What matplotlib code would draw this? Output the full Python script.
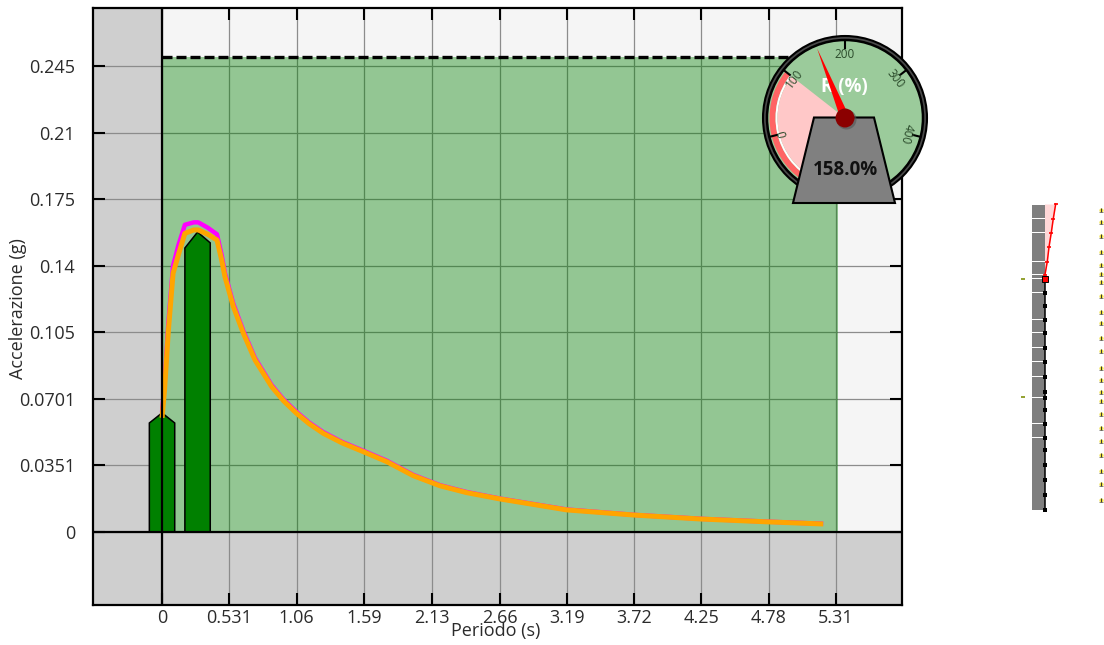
# ******************************************************************************
# * Spettro di risposta con gauge R(%) e schema della parete
# ******************************************************************************
import numpy as np
import matplotlib
matplotlib.use("Agg")
import matplotlib.pyplot as plt
from matplotlib.patches import Circle, Polygon, Rectangle, Wedge

plt.rcParams['font.family'] = ['Open Sans', 'DejaVu Sans']

# ******************************************************************************
# * Data
# ******************************************************************************
x_ticks = [0, 0.531, 1.06, 1.59, 2.13, 2.66, 3.19, 3.72, 4.25, 4.78, 5.31]
x_tick_labels = ['0', '0.531', '1.06', '1.59', '2.13', '2.66', '3.19', '3.72', '4.25', '4.78', '5.31']
y_ticks = [0, 0.0351, 0.0701, 0.105, 0.14, 0.175, 0.21, 0.245]
y_tick_labels = ['0', '0.0351', '0.0701', '0.105', '0.14', '0.175', '0.21', '0.245']

# spettro di domanda (arancio) e di capacita' (magenta)
periodo = [0, 0.02, 0.05, 0.087, 0.13, 0.18, 0.25, 0.285, 0.36, 0.433, 0.47, 0.496, 0.562, 0.641,
           0.733, 0.864, 0.96, 1.06, 1.16, 1.27, 1.42, 1.587, 1.77, 1.98, 2.19, 2.4, 2.66, 3.19,
           3.72, 4.25, 4.78, 5.21]
acc_orange = [0.060, 0.075, 0.106, 0.136, 0.146, 0.157, 0.1588, 0.1588, 0.1565, 0.1535, 0.143, 0.1342,
              0.1185, 0.1045, 0.0904, 0.0764, 0.0688, 0.0624, 0.0569, 0.0519, 0.0468, 0.0422, 0.037,
              0.0296, 0.0243, 0.0207, 0.0174, 0.0116, 0.0089, 0.0068, 0.0053, 0.0042]
acc_magenta = [0.063, 0.078, 0.110, 0.140, 0.151, 0.1615, 0.1628, 0.1628, 0.1600, 0.1565, 0.1455, 0.1360,
               0.1200, 0.1057, 0.0914, 0.0772, 0.0695, 0.0631, 0.0575, 0.0525, 0.0473, 0.0427, 0.0375,
               0.0300, 0.0246, 0.0210, 0.0176, 0.0118, 0.0090, 0.0069, 0.0054, 0.0043]

# barre dei modi
bar_center = [0.0, 0.28]
bar_width = [0.2, 0.2]
bar_shoulder_l = [0.0573, 0.1493]
bar_shoulder_r = [0.0573, 0.152]
bar_top = [0.0626, 0.1577]

limit_acc = 0.2497
limit_period = 5.33

# gauge
gauge_ticks = [0, 100, 200, 300, 400]
gauge_value = 158.0
gauge_red_limit = 100
gauge_title = 'R (%)'

# schema parete: quote dei piani e spostamenti
quote = [0, 1.5, 3.0, 4.5, 6.0, 7.25, 8.65, 10.0, 11.25, 11.8, 13.35, 14.85, 16.25, 17.75,
         19.05, 20.4, 21.75, 23.15, 23.55, 24.85, 26.3, 27.75, 29.15, 30.5]
spost_quote = [23.15, 23.55, 24.85, 26.3, 27.75, 29.15, 30.6]
spost = [0, 0.05, 0.28, 0.45, 0.68, 0.88, 1.12]
quote_ritti = [1.0, 2.6, 3.9, 5.5, 6.9, 8.2, 9.6, 10.9, 11.8, 13.0, 14.2, 15.9, 17.2, 18.7,
               19.8, 21.4, 22.8, 23.6, 24.5, 25.8, 27.4, 28.8, 30.0]
quote_marche = [23.1, 11.3]

# ******************************************************************************
# * Main chart
# ******************************************************************************
fig = plt.figure(figsize=(11.04, 6.45), dpi=100)
W, H = 1104.0, 645.0
ax = fig.add_axes([93 / W, 1 - 605 / H, (902 - 93) / W, (605 - 8) / H])
ax.set_xlim(-0.544, 5.831)
ax.set_ylim(-0.0384, 0.2755)
ax.set_facecolor('#f5f5f5')

ax.axvspan(-0.544, 0, color='#cfcfcf', lw=0, zorder=0)
ax.axhspan(-0.0384, 0, color='#cfcfcf', lw=0, zorder=0)

ax.set_xticks(x_ticks)
ax.set_xticklabels(x_tick_labels)
ax.set_yticks(y_ticks)
ax.set_yticklabels(y_tick_labels)
ax.grid(True, color='#8c8c8c', lw=0.9, zorder=1)
ax.set_axisbelow(True)
ax.tick_params(which='both', direction='in', top=True, right=True, length=8.5, width=1.5,
               labelsize=13, labelcolor='#2b2b2b')
ax.tick_params(axis='x', pad=3)
ax.tick_params(axis='y', pad=13)

ax.add_patch(Rectangle((0, 0), limit_period, limit_acc, facecolor='green', alpha=0.4,
                       lw=0, zorder=2))
ax.plot([0, limit_period], [limit_acc, limit_acc], color='black', lw=2.4,
        ls=(0, (3, 1.2)), zorder=3)

for c, w, sl, sr, t in zip(bar_center, bar_width, bar_shoulder_l, bar_shoulder_r, bar_top):
    ax.add_patch(Polygon([(c - w / 2, 0), (c - w / 2, sl), (c, t), (c + w / 2, sr), (c + w / 2, 0)],
                         closed=True, facecolor='#008000', edgecolor='black', lw=1.1, zorder=4))

ax.plot(periodo, acc_magenta, color='#ff00ff', lw=3.2, zorder=5, solid_capstyle='butt')
ax.plot(periodo, acc_orange, color='#ffa500', lw=3.6, zorder=6, solid_capstyle='butt')

ax.axhline(0, color='black', lw=1.6, zorder=7)
ax.axvline(0, color='black', lw=1.6, zorder=7)
for s in ax.spines.values():
    s.set_linewidth(1.6)
    s.set_zorder(8)

fig.text(496 / W, 1 - 631 / H, 'Periodo (s)', ha='center', va='center', fontsize=13, color='#2b2b2b')
fig.text(18 / W, 1 - 309 / H, 'Accelerazione (g)', ha='center', va='center', rotation=90,
         fontsize=13, color='#2b2b2b')

# ******************************************************************************
# * Gauge (overlay in pixel coordinates)
# ******************************************************************************
ov = fig.add_axes([0, 0, 1, 1], facecolor='none')
ov.set_xlim(0, W)
ov.set_ylim(0, H)
ov.axis('off')
cx, cy = 845.0, H - 118.0


def gauge_angle(v):
    return 90 - (v - 200) * 0.52


def polar(r, angle):
    a = np.deg2rad(angle)
    return cx + r * np.cos(a), cy + r * np.sin(a)


ov.add_patch(Circle((cx, cy), 82, facecolor='#4a4a4a', edgecolor='black', lw=1.5, zorder=10))
ov.add_patch(Circle((cx, cy), 78, facecolor='#9bcb9b', edgecolor='black', lw=1.8, zorder=11))
a_start = gauge_angle(gauge_red_limit)
ov.add_patch(Wedge((cx, cy), 75.5, a_start, a_start + 100, width=6, facecolor='#ff6464', lw=0, zorder=12))
ov.add_patch(Wedge((cx, cy), 69.5, a_start, a_start + 100, width=2, facecolor='white', lw=0, zorder=12))
ov.add_patch(Wedge((cx, cy), 67.5, a_start, a_start + 100, facecolor='#ffc8c8', lw=0, zorder=12))

for v in gauge_ticks:
    a = gauge_angle(v)
    x0, y0 = polar(77, a)
    x1, y1 = polar(70, a)
    ov.plot([x0, x1], [y0, y1], color='black', lw=1.5, zorder=13)
    tx, ty = polar(64, a)
    ov.text(tx, ty, str(v), ha='center', va='center', rotation=a - 90, rotation_mode='anchor',
            fontsize=8.5, color='#2a4a2a', zorder=13)

ov.text(cx - 1, H - 87, gauge_title, ha='center', va='center', fontsize=13.5, fontweight='bold',
        color='white', zorder=13)

# lancetta
a = gauge_angle(gauge_value)
tip = polar(75, a)
b0 = polar(4.5, a + 90)
b1 = polar(4.5, a - 90)
ov.add_patch(Polygon([tip, b0, b1], closed=True, facecolor='#ff0000', lw=0, zorder=14))

ov.add_patch(Polygon([(814, H - 117.5), (874, H - 117.5), (895, H - 203), (793, H - 203)], closed=True,
                     facecolor='#808080', edgecolor='black', lw=1.5, zorder=15))
ov.add_patch(Circle((cx + 1.5, cy - 1.5), 10, facecolor='#555555', lw=0, alpha=0.6, zorder=15))
ov.add_patch(Circle((cx, cy), 9.5, facecolor='#8b0000', lw=0, zorder=16))
ov.text(845, H - 170, '%.1f%%' % gauge_value, ha='center', va='center', fontsize=13.5, fontweight='bold',
        color='#111111', zorder=16)

# ******************************************************************************
# * Schema parete
# ******************************************************************************
sk = fig.add_axes([1015 / W, 1 - 515 / H, 89 / W, 315 / H], facecolor='none')
sk.set_xlim(-2.95, 5.95)
sk.set_ylim(-0.5, 31)
sk.axis('off')

for z0, z1 in zip(quote[:-1], quote[1:]):
    sk.add_patch(Rectangle((-1.25, z0 + 0.04), 1.25, z1 - z0 - 0.08, facecolor='#7f7f7f', lw=0, zorder=1))

base = [q for q in quote if q <= spost_quote[0]]
sk.plot([0] * len(base), base, color='black', lw=1.1, marker='s', ms=2.5, mew=0, zorder=2)

sk.fill_betweenx(spost_quote, 0, spost, color='#ffc8c8', alpha=0.7, lw=0, zorder=2)
sk.plot(spost, spost_quote, color='red', lw=1.1, marker='_', ms=3.5, mew=1.2, zorder=3)
sk.plot([0], [spost_quote[0]], marker='s', ms=5, color='red', mec='black', mew=0.7, zorder=4)

sk.plot([-2.15] * len(quote_marche), quote_marche, ls='none', marker='_', ms=3.5, mew=1.3,
        color='#8a9a20', zorder=2)

sk.plot([5.6] * len(quote_ritti), quote_ritti, ls='none', marker='o', ms=3, color='#f0e040',
        mew=0, zorder=2)
sk.plot([5.6] * len(quote_ritti), quote_ritti, ls='none', marker='|', ms=3.5, mew=0.7,
        color='#333333', zorder=3)
sk.plot([5.6] * len(quote_ritti), [q - 0.2 for q in quote_ritti], ls='none', marker='_', ms=3.5, mew=0.5,
        color='#555555', zorder=3)

fig.savefig('out.png', dpi=100)
